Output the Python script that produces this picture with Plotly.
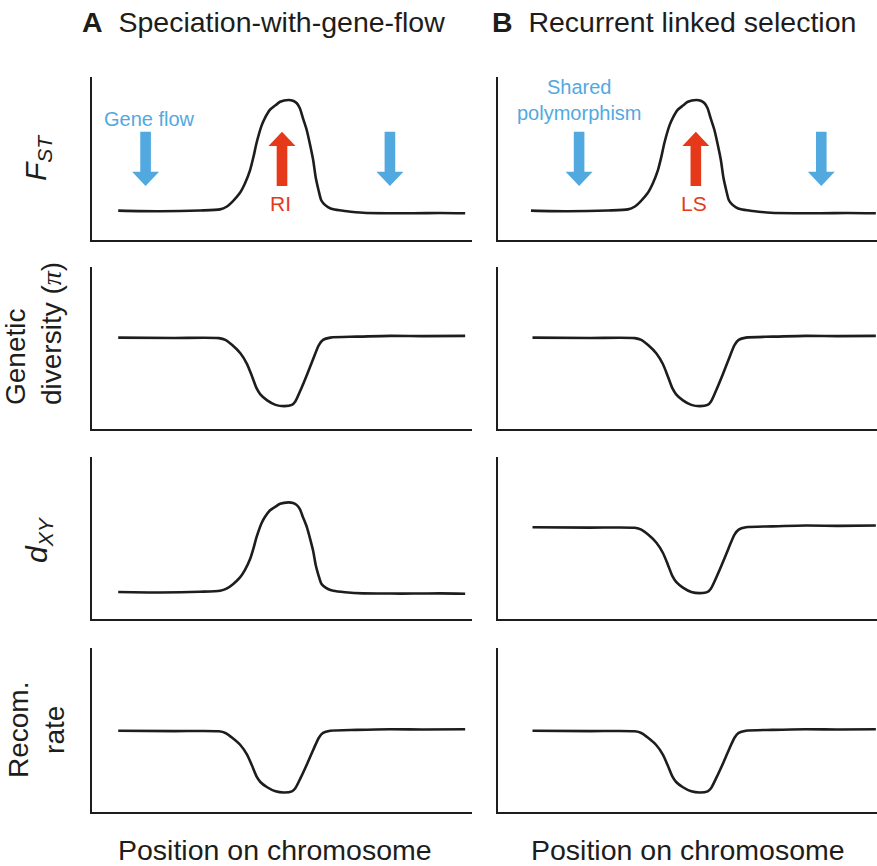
import plotly.graph_objects as go

W, H = 877, 866

# ---------------- data ----------------
panel_titles = ["Speciation-with-gene-flow", "Recurrent linked selection"]
panel_letters = ["A", "B"]
row_labels = ["<i>F<sub>ST</sub></i>",
              "Genetic<br>diversity (<span style='font-family:Liberation Serif, Times New Roman, serif'><i>\u03c0</i></span>)",
              "<i>d<sub>XY</sub></i>", "Recom.<br>rate"]
x_label = "Position on chromosome"

# F_ST peak curves
fst_x_a = [6.9, 17.9, 28.4, 33.7, 35.4, 37.1, 38.9, 40.3, 41.6, 42.6, 43.3, 44.7, 45.5, 46.8, 48.2, 49.5,
           51.7, 52.9, 53.9, 54.7, 55.5, 56.5, 57.4, 58.2, 58.9, 59.6, 60.3, 60.9, 62.1, 63.5, 66.6, 71.4,
           78.4, 84.6, 91.6, 98.2]
fst_x_b = [8.7, 18.5, 29.0, 34.3, 36.0, 37.7, 39.5, 40.9, 42.2, 43.2, 43.9, 45.3, 46.1, 47.4, 48.8, 50.1,
           52.3, 53.5, 54.5, 55.3, 56.1, 57.1, 58.0, 58.8, 59.5, 60.2, 60.9, 61.5, 62.7, 64.1, 67.2, 72.0,
           79.0, 85.2, 92.2, 99.7]
fst_y = [0.180, 0.176, 0.181, 0.188, 0.204, 0.239, 0.288, 0.350, 0.429, 0.521, 0.595, 0.706, 0.748, 0.798,
         0.825, 0.848, 0.859, 0.854, 0.839, 0.808, 0.748, 0.675, 0.583, 0.491, 0.380, 0.307, 0.245, 0.225,
         0.202, 0.188, 0.178, 0.167, 0.164, 0.164, 0.166, 0.164]
dxy_y_a = [0.167, 0.164, 0.168, 0.174, 0.187, 0.215, 0.255, 0.305, 0.370, 0.445, 0.505, 0.596, 0.630, 0.670,
           0.692, 0.711, 0.720, 0.716, 0.703, 0.678, 0.630, 0.570, 0.495, 0.420, 0.330, 0.270, 0.220, 0.204,
           0.185, 0.174, 0.165, 0.158, 0.157, 0.157, 0.158, 0.156]

# dip curves
dip_x_a = [6.9, 21.5, 33.4, 35.1, 36.9, 39.1, 40.8, 42.1, 43.3, 44.3, 46.1, 48.3, 50.6, 52.6, 53.5, 54.9,
           56.6, 58.2, 59.7, 60.8, 62.7, 69.7, 78.5, 87.3, 98.2]
dip_x_b = [9.1, 24.2, 36.1, 37.8, 39.6, 41.8, 43.5, 44.8, 46.0, 47.0, 48.8, 51.0, 53.3, 55.3, 56.2, 57.6,
           59.3, 60.9, 62.4, 63.5, 65.4, 72.4, 81.2, 90.0, 99.7]
pi_y = [0.564, 0.562, 0.561, 0.550, 0.518, 0.466, 0.401, 0.326, 0.252, 0.214, 0.177, 0.149, 0.141, 0.149,
        0.170, 0.241, 0.337, 0.432, 0.518, 0.550, 0.564, 0.570, 0.575, 0.573, 0.575]
dxy_y_b = [0.566, 0.564, 0.563, 0.552, 0.521, 0.471, 0.409, 0.337, 0.266, 0.229, 0.194, 0.167, 0.160, 0.167,
           0.188, 0.256, 0.348, 0.440, 0.521, 0.552, 0.566, 0.572, 0.577, 0.575, 0.577]
recom_y = [0.495, 0.493, 0.492, 0.482, 0.453, 0.407, 0.350, 0.283, 0.217, 0.183, 0.151, 0.126, 0.119, 0.126,
           0.145, 0.208, 0.293, 0.378, 0.453, 0.482, 0.495, 0.501, 0.505, 0.503, 0.505]

# arrows in the F_ST panels (x position in data units)
blue_arrow_x_a = [14.1, 78.4]
blue_arrow_x_b = [21.4, 85.3]
red_arrow_x = [50.0, 52.2]
flow_text = ["Gene flow", "Shared<br>polymorphism"]
flow_text_x = [15.0, 21.5]
red_text = ["RI", "LS"]

# ---------------- styling / layout ----------------
INK = "#1d1d1b"
BLUE = "#52a9e0"
RED = "#e6391a"
SANS = "Liberation Sans, Arial, Helvetica, sans-serif"

col_px = [(92, 472), (498, 878)]
row_px = [(77, 240), (267, 429), (457, 619), (648, 812)]

curves = [
    [(fst_x_a, fst_y), (fst_x_b, fst_y)],
    [(dip_x_a, pi_y), (dip_x_b, pi_y)],
    [(fst_x_a, dxy_y_a), (dip_x_b, dxy_y_b)],
    [(dip_x_a, recom_y), (dip_x_b, recom_y)],
]

fig = go.Figure()
layout = dict(width=W, height=H, margin=dict(l=0, r=0, t=0, b=0),
              paper_bgcolor="white", plot_bgcolor="white", showlegend=False)

for r in range(4):
    for c in range(2):
        i = r * 2 + c + 1
        xs = "" if i == 1 else str(i)
        x0, x1 = col_px[c]
        y0, y1 = row_px[r]
        common = dict(showline=True, linewidth=2.4, linecolor=INK, showticklabels=False,
                      ticks="", showgrid=False, zeroline=False, fixedrange=True)
        layout["xaxis" + xs] = dict(domain=[x0 / W, min(x1 / W, 1.0)], range=[0, 100],
                                    anchor="y" + xs, **common)
        layout["yaxis" + xs] = dict(domain=[1 - y1 / H, 1 - y0 / H], range=[0, 1],
                                    anchor="x" + xs, **common)
        cx, cy = curves[r][c]
        fig.add_trace(go.Scatter(x=cx, y=cy, mode="lines", xaxis="x" + xs, yaxis="y" + xs,
                                 line=dict(color=INK, width=2.6, shape="spline", smoothing=0.7),
                                 hoverinfo="skip"))

fig.update_layout(**layout)

# arrows (filled paths in data coordinates of the F_ST panels)
SHAFT = 1.4      # half shaft width (x units)
HEAD = 3.55      # half head width (x units)
A_TOP, A_HEAD, A_TIP = 0.664, 0.419, 0.331
R_BOT, R_HEAD, R_TIP = 0.331, 0.577, 0.664


def down_arrow(x):
    return (f"M {x-SHAFT},{A_TOP} L {x+SHAFT},{A_TOP} L {x+SHAFT},{A_HEAD} L {x+HEAD},{A_HEAD} "
            f"L {x},{A_TIP} L {x-HEAD},{A_HEAD} L {x-SHAFT},{A_HEAD} Z")


def up_arrow(x):
    return (f"M {x-SHAFT},{R_BOT} L {x+SHAFT},{R_BOT} L {x+SHAFT},{R_HEAD} L {x+HEAD},{R_HEAD} "
            f"L {x},{R_TIP} L {x-HEAD},{R_HEAD} L {x-SHAFT},{R_HEAD} Z")


flow_text_y = [0.66, 0.70]
for c, (xr, yr) in enumerate([("x", "y"), ("x2", "y2")]):
    blues = blue_arrow_x_a if c == 0 else blue_arrow_x_b
    for bx in blues:
        fig.add_shape(type="path", path=down_arrow(bx), xref=xr, yref=yr,
                      fillcolor=BLUE, line=dict(width=0), layer="above")
    fig.add_shape(type="path", path=up_arrow(red_arrow_x[c]), xref=xr, yref=yr,
                  fillcolor=RED, line=dict(width=0), layer="above")
    fig.add_annotation(x=flow_text_x[c], y=flow_text_y[c], xref=xr, yref=yr,
                       text=flow_text[c], showarrow=False, xanchor="center", yanchor="bottom",
                       font=dict(family=SANS, size=20, color=BLUE))
    fig.add_annotation(x=red_arrow_x[c] - 0.4, y=0.225, xref=xr, yref=yr, text=red_text[c],
                       showarrow=False, xanchor="center", yanchor="middle",
                       font=dict(family=SANS, size=21, color=RED))

# panel titles
title_x_px = [80, 490]
for c in range(2):
    fig.add_annotation(x=title_x_px[c] / W, y=1 - 22 / H, xref="paper", yref="paper",
                       text=f"<b>{panel_letters[c]}</b>  {panel_titles[c]}", showarrow=False,
                       xanchor="left", yanchor="middle", font=dict(family=SANS, size=28.5, color=INK))

# x labels
xlab_px = [275, 688]
for c in range(2):
    fig.add_annotation(x=xlab_px[c] / W, y=1 - 850 / H, xref="paper", yref="paper", text=x_label,
                       showarrow=False, xanchor="center", yanchor="middle",
                       font=dict(family=SANS, size=28.5, color=INK))

# row labels
label_pos = [(38, 158, 30), (33, 334, 28), (38, 540, 30), (36, 730, 28)]
for r, (lx, ly, fs) in enumerate(label_pos):
    fig.add_annotation(x=lx / W, y=1 - ly / H, xref="paper", yref="paper", text=row_labels[r],
                       showarrow=False, textangle=-90, xanchor="center", yanchor="middle",
                       align="left" if r == 1 else "center",
                       font=dict(family=SANS, size=fs, color=INK))

fig.write_html("out.html", config={"displayModeBar": False, "staticPlot": True},
               post_script="document.body.style.margin='0';document.body.style.overflow='hidden';")
